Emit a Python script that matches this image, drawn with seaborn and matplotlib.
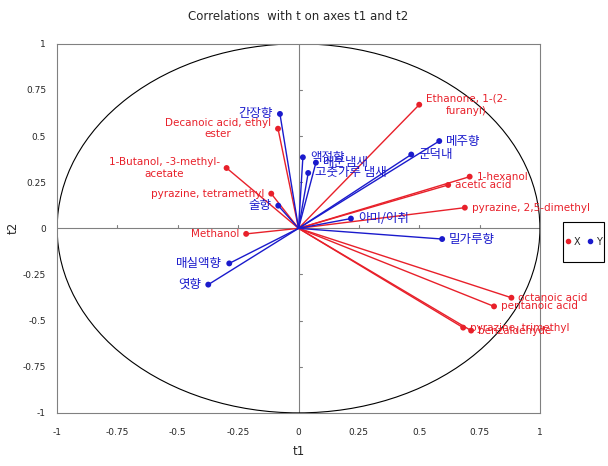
import matplotlib
matplotlib.use("Agg")
import matplotlib.pyplot as plt
from matplotlib.patches import Ellipse, Rectangle
from matplotlib.lines import Line2D
import seaborn as sns
import pandas as pd

# X variables (red)
x_names = ["Ethanone, 1-(2-\nfuranyl)", "Decanoic acid, ethyl\nester", "1-Butanol, -3-methyl-\nacetate",
           "pyrazine, tetramethyl", "Methanol", "1-hexanol", "acetic acid", "pyrazine, 2,5-dimethyl",
           "octanoic acid", "pentanoic acid", "pyrazine, trimethyl", "benzaldehyde"]
x_t1 = [0.50, -0.085, -0.298, -0.113, -0.217, 0.709, 0.62, 0.689, 0.882, 0.81, 0.682, 0.715]
x_t2 = [0.67, 0.54, 0.327, 0.188, -0.03, 0.28, 0.235, 0.112, -0.376, -0.423, -0.538, -0.554]
x_side = ["r", "l", "l", "l", "l", "r", "r", "r", "r", "r", "r", "r"]

# Y variables (blue)
y_names = ["간장향", "술향", "액젓향", "매운냄새", "고춧가루 냄새", "메주향", "군덕내",
           "아미/이취", "밀가루향", "매실액향", "엿향"]
y_t1 = [-0.077, -0.084, 0.018, 0.072, 0.04, 0.583, 0.467, 0.217, 0.595, -0.287, -0.374]
y_t2 = [0.62, 0.123, 0.385, 0.356, 0.30, 0.473, 0.40, 0.053, -0.058, -0.19, -0.305]
y_side = ["l", "l", "r", "r", "r", "r", "r", "r", "r", "l", "l"]

ticks = [-1, -0.75, -0.5, -0.25, 0, 0.25, 0.5, 0.75, 1]
tick_labels = ["-1", "-0.75", "-0.5", "-0.25", "0", "0.25", "0.5", "0.75", "1"]

RED = "#e8202a"
BLUE = "#1a1acc"

sns.set_style("white")
plt.rcParams["font.family"] = ["DejaVu Sans", "Noto Sans CJK KR"]

df = pd.concat([
    pd.DataFrame({"t1": x_t1, "t2": x_t2, "name": x_names, "side": x_side, "grp": "X"}),
    pd.DataFrame({"t1": y_t1, "t2": y_t2, "name": y_names, "side": y_side, "grp": "Y"}),
], ignore_index=True)

fig = plt.figure(figsize=(6.08, 4.66), dpi=100)
ax = fig.add_axes([0.094, 0.114, 0.794, 0.792])

ax.add_patch(Ellipse((0, 0), 2, 2, fill=False, color="black", lw=0.8, zorder=1))
ax.axhline(0, color="#808080", lw=0.8, zorder=0)
ax.axvline(0, color="#808080", lw=0.8, zorder=0)
for t in ticks:
    if t not in (-1, 0, 1):
        ax.plot([t, t], [0, 0.02], color="#808080", lw=0.8, zorder=0)
        ax.plot([0, 0.015], [t, t], color="#808080", lw=0.8, zorder=0)

for _, r in df.iterrows():
    c = RED if r["grp"] == "X" else BLUE
    ax.plot([0, r["t1"]], [0, r["t2"]], color=c, lw=1.0, zorder=2)

sns.scatterplot(data=df, x="t1", y="t2", hue="grp", palette={"X": RED, "Y": BLUE},
                s=18, edgecolor="none", ax=ax, legend=False, zorder=3)

for _, r in df.iterrows():
    c = RED if r["grp"] == "X" else BLUE
    if r["grp"] == "X":
        kw = dict(fontsize=7.5, family="DejaVu Sans")
    else:
        kw = dict(fontsize=9, family=["Noto Sans CJK KR", "DejaVu Sans"])
    if r["side"] == "r":
        ax.annotate(r["name"], (r["t1"], r["t2"]), xytext=(5, 0), textcoords="offset points",
                    ha="left", va="center", color=c, multialignment="center", **kw)
    else:
        ax.annotate(r["name"], (r["t1"], r["t2"]), xytext=(-5, 0), textcoords="offset points",
                    ha="right", va="center", color=c, multialignment="center", **kw)

ax.set_xlim(-1, 1)
ax.set_ylim(-1, 1)
ax.set_xticks(ticks)
ax.set_xticklabels(tick_labels)
ax.set_yticks(ticks)
ax.set_yticklabels(tick_labels)
ax.tick_params(axis="x", labelsize=6.5, length=0, pad=11)
ax.tick_params(axis="y", labelsize=6.5, length=0, pad=8)
for s in ax.spines.values():
    s.set_color("#808080")
    s.set_linewidth(0.8)
ax.set_xlabel("t1", fontsize=8.5, labelpad=6)
ax.set_ylabel("t2", fontsize=8.5, labelpad=2)
ax.set_title("Correlations  with t on axes t1 and t2", fontsize=8.5, pad=17)

# legend box at the right
fig.patches.append(Rectangle((0.926, 0.438), 0.0674, 0.0858, transform=fig.transFigure,
                             fill=False, edgecolor="black", lw=0.8))
handles = [Line2D([], [], marker="o", color=RED, ls="", ms=3, label="X"),
           Line2D([], [], marker="o", color=BLUE, ls="", ms=3, label="Y")]
fig.legend(handles=handles, loc="center", bbox_to_anchor=(0.959, 0.481), ncol=2,
           frameon=False, fontsize=7, handletextpad=0.3, columnspacing=0.7,
           borderpad=0, handlelength=0.6)

fig.savefig("out.png", dpi=100)
